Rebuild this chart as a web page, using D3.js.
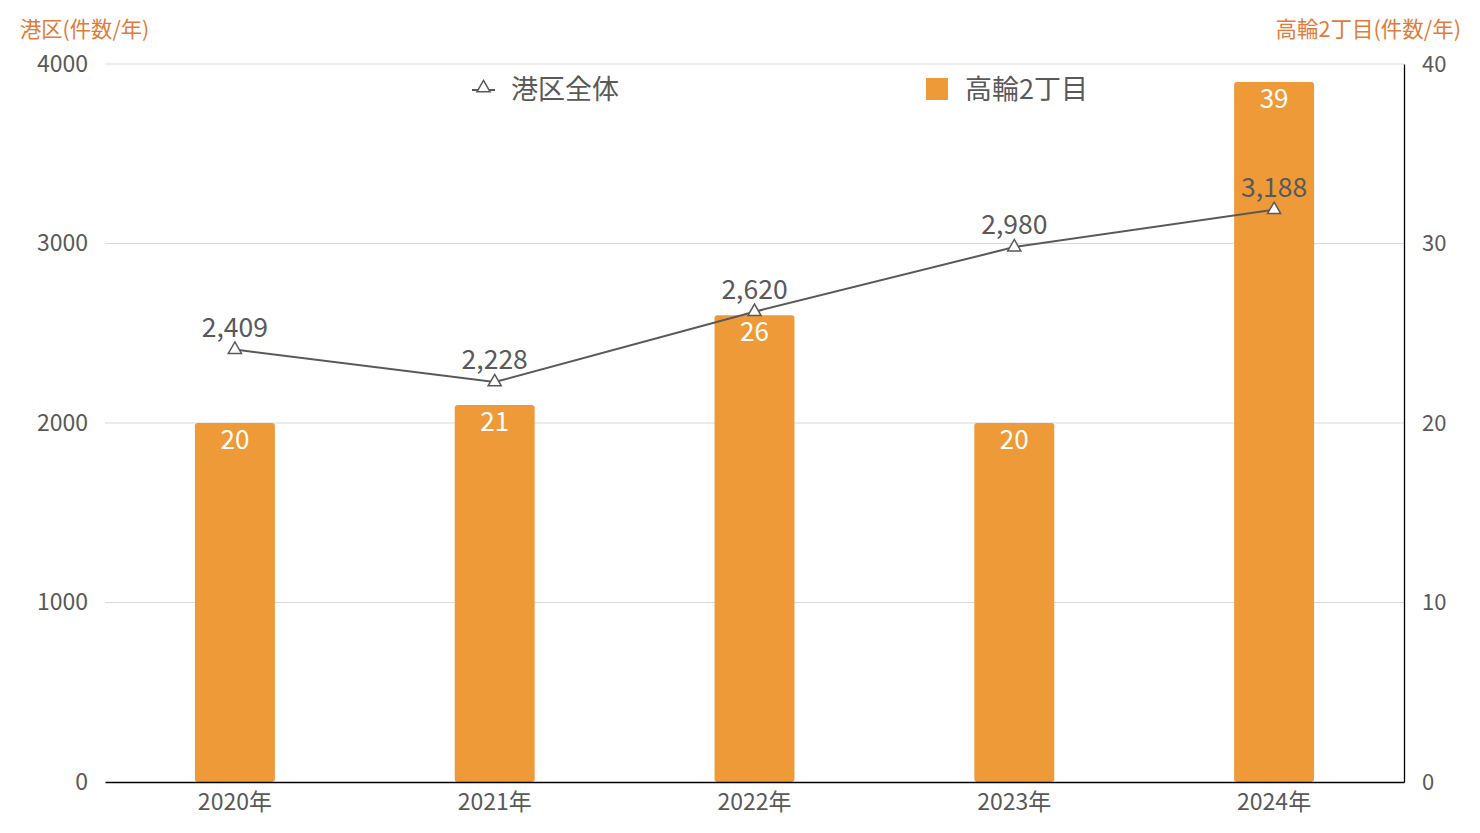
<!DOCTYPE html>
<html>
<head>
<meta charset="utf-8">
<script src="https://cdn.jsdelivr.net/npm/d3@7"></script>
<style>
  body { margin: 0; background: #fff; }
  text { font-family: "Noto Sans CJK JP", "Noto Sans", sans-serif; }
</style>
</head>
<body>
<div id="chart"></div>
<script>
const years = ["2020年", "2021年", "2022年", "2023年", "2024年"];
const minatoTotal = [2409, 2228, 2620, 2980, 3188];
const takanawa = [20, 21, 26, 20, 39];
const leftTicks = [0, 1000, 2000, 3000, 4000];
const rightTicks = [0, 10, 20, 30, 40];

const width = 1480, height = 833;
const margin = {top: 64, right: 76, bottom: 51, left: 105};

const svg = d3.select("#chart").append("svg")
  .attr("width", width)
  .attr("height", height);

const x = d3.scaleBand()
  .domain(years)
  .range([margin.left, width - margin.right])
  .paddingInner(0.6923)
  .paddingOuter(0.34615);

const yL = d3.scaleLinear().domain([0, 4000]).range([height - margin.bottom, margin.top]);
const yR = d3.scaleLinear().domain([0, 40]).range([height - margin.bottom, margin.top]);

const grey = "#595959";
const orange = "#ef9a38";
const titleOrange = "#e07b39";

// gridlines
svg.append("g")
  .selectAll("line")
  .data(leftTicks.filter(d => d > 0))
  .join("line")
  .attr("x1", margin.left)
  .attr("x2", width - margin.right)
  .attr("y1", d => yL(d))
  .attr("y2", d => yL(d))
  .attr("stroke", "#d9d9d9")
  .attr("stroke-width", 1);

// left axis
const leftAxis = svg.append("g")
  .attr("transform", `translate(${margin.left},0)`)
  .call(d3.axisLeft(yL).tickValues(leftTicks).tickSize(0).tickPadding(17).tickFormat(d3.format("d")));
leftAxis.select(".domain").remove();
leftAxis.selectAll("text").attr("font-size", 23).attr("fill", grey)
  .attr("font-family", "'Noto Sans CJK JP', sans-serif");

// right axis
const rightAxis = svg.append("g")
  .attr("transform", `translate(${width - margin.right},0)`)
  .call(d3.axisRight(yR).tickValues(rightTicks).tickSize(0).tickPadding(18));
rightAxis.select(".domain").attr("stroke", "#000").attr("stroke-width", 1.3);
rightAxis.selectAll("text").attr("font-size", 22).attr("fill", grey)
  .attr("font-family", "'Noto Sans CJK JP', sans-serif");

// bars
svg.append("g")
  .selectAll("rect")
  .data(takanawa)
  .join("rect")
  .attr("x", (d, i) => x(years[i]))
  .attr("width", x.bandwidth())
  .attr("y", d => yR(d))
  .attr("height", d => yR(0) - yR(d))
  .attr("rx", 3)
  .attr("fill", orange);

svg.append("g")
  .selectAll("text")
  .data(takanawa)
  .join("text")
  .attr("x", (d, i) => x(years[i]) + x.bandwidth() / 2)
  .attr("y", d => yR(d) + 26)
  .attr("text-anchor", "middle")
  .attr("font-size", 26)
  .attr("fill", "#fff")
  .text(d => d);

// bottom axis
const bottomAxis = svg.append("g")
  .attr("transform", `translate(0,${height - margin.bottom})`)
  .call(d3.axisBottom(x).tickSize(0).tickPadding(12));
bottomAxis.select(".domain").attr("stroke", "#000").attr("stroke-width", 1.3);
bottomAxis.selectAll("text").attr("font-size", 23).attr("fill", grey)
  .attr("font-family", "'Noto Sans CJK JP', sans-serif");

// line
const cx = i => x(years[i]) + x.bandwidth() / 2;
const line = d3.line()
  .x((d, i) => cx(i))
  .y(d => yL(d));

svg.append("path")
  .datum(minatoTotal)
  .attr("d", line)
  .attr("fill", "none")
  .attr("stroke", grey)
  .attr("stroke-width", 2);

const tri = d3.symbol().type(d3.symbolTriangle).size(75);

svg.append("g")
  .selectAll("path")
  .data(minatoTotal)
  .join("path")
  .attr("d", tri)
  .attr("transform", (d, i) => `translate(${cx(i)},${yL(d)})`)
  .attr("fill", "#fff")
  .attr("stroke", grey)
  .attr("stroke-width", 1.5);

svg.append("g")
  .selectAll("text")
  .data(minatoTotal)
  .join("text")
  .attr("x", (d, i) => cx(i))
  .attr("y", d => yL(d) - 13)
  .attr("text-anchor", "middle")
  .attr("font-size", 26.5)
  .attr("fill", grey)
  .text(d => d3.format(",")(d));

// axis titles
svg.append("text")
  .attr("x", 20)
  .attr("y", 37)
  .attr("font-size", 21.3)
  .attr("fill", titleOrange)
  .text("港区(件数/年)");

svg.append("text")
  .attr("x", 1461)
  .attr("y", 37)
  .attr("text-anchor", "end")
  .attr("font-size", 21.5)
  .attr("fill", titleOrange)
  .text("高輪2丁目(件数/年)");

// legend
const lg = svg.append("g");
lg.append("line")
  .attr("x1", 472).attr("x2", 495)
  .attr("y1", 90).attr("y2", 90)
  .attr("stroke", grey).attr("stroke-width", 2);
lg.append("path")
  .attr("d", tri)
  .attr("transform", "translate(483.5,88)")
  .attr("fill", "#fff")
  .attr("stroke", grey)
  .attr("stroke-width", 1.5);
lg.append("text")
  .attr("x", 511).attr("y", 99)
  .attr("font-size", 27).attr("fill", grey)
  .text("港区全体");
lg.append("rect")
  .attr("x", 926).attr("y", 78)
  .attr("width", 22).attr("height", 22)
  .attr("fill", orange);
lg.append("text")
  .attr("x", 965).attr("y", 99)
  .attr("font-size", 27).attr("fill", grey)
  .text("高輪2丁目");
</script>
</body>
</html>
